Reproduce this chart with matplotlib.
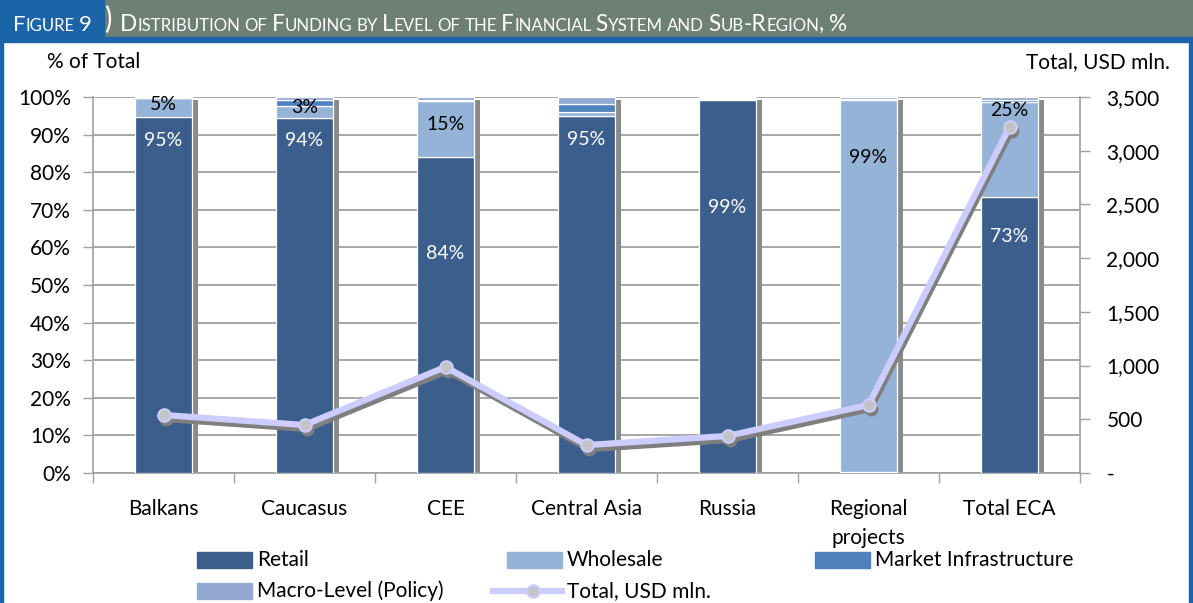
import matplotlib
matplotlib.use("Agg")
import matplotlib.pyplot as plt
import matplotlib.transforms as mtransforms
from matplotlib.patches import Rectangle, Arc
from matplotlib.lines import Line2D
from matplotlib.ticker import FixedLocator, FuncFormatter

plt.rcParams['font.family'] = ['Lato', 'DejaVu Sans']

# data
regions = ['Balkans', 'Caucasus', 'CEE', 'Central Asia', 'Russia', 'Regional\nprojects', 'Total ECA']
retail = [94.7, 94.3, 84.0, 94.9, 99.3, 0.3, 73.4]
wholesale = [5.0, 3.3, 14.9, 1.2, 0.2, 99.0, 25.3]
market_infra = [0.0, 1.7, 0.3, 2.0, 0.2, 0.2, 0.5]
macro = [0.3, 0.7, 0.8, 1.9, 0.3, 0.5, 0.8]
totals_usd = [540, 447, 987, 260, 345, 633, 3222]

# where the data labels sit (in % of axis), None = no label
retail_lab_y = [88.3, 88.3, 58.5, 88.8, 70.7, None, 63.0]
whole_lab_y = [98.1, 97.3, 92.6, None, None, 84.0, 96.5]

c_retail = '#3b5e8c'
c_whole = '#95b3d7'
c_mi = '#4f81bd'
c_macro = '#93a9d1'
c_line = '#ccccff'

FS = 15  # main text size

W, H = 1193, 603
fig = plt.figure(figsize=(W / 100, H / 100), dpi=100)

# ---- header banner
fig.patches.append(Rectangle((0, 1 - 37 / H), 1, 37 / H, transform=fig.transFigure,
                             color='#6e7f73', zorder=0))
fig.patches.append(Rectangle((0, 1 - 37 / H), 104 / W, 37 / H, transform=fig.transFigure,
                             color='#1b64a8', zorder=1))
fig.patches.append(Rectangle((0, 1 - 42 / H), 1, 5 / H, transform=fig.transFigure,
                             color='#1b64a8', zorder=1))
fig.patches.append(Rectangle((0, 0), 3 / W, 1 - 40 / H, transform=fig.transFigure,
                             color='#1b64a8', zorder=1))
fig.patches.append(Rectangle((1 - 4 / W, 0), 4 / W, 1 - 40 / H, transform=fig.transFigure,
                             color='#1b64a8', zorder=1))
# white bracket between box and title
fig.add_artist(Arc((97 / W, 1 - 19 / H), 26 / W, 40 / H, theta1=-70, theta2=70,
                   transform=fig.transFigure, color='white', lw=1.6, zorder=3))

renderer = fig.canvas.get_renderer()


def smallcaps(x, y, s, big, small, color):
    # fake small caps: capitals at big size, lower case as smaller capitals
    runs = []
    for ch in s:
        if ch == ' ':
            runs.append((' ', None))
            continue
        size = small if ch.islower() else big
        if runs and runs[-1][1] == size:
            runs[-1] = (runs[-1][0] + ch.upper(), size)
        else:
            runs.append((ch.upper(), size))
    for txt, size in runs:
        if size is None:
            x += 0.26 * big
            continue
        t = fig.text(x / W, y / H, txt, fontsize=size, color=color,
                     ha='left', va='baseline', zorder=4)
        bb = t.get_window_extent(renderer)
        x += bb.width


smallcaps(13, H - 31, 'Figure 9', 16, 12, 'white')
smallcaps(120, H - 31, 'Distribution of Funding by Level of the Financial System and Sub-Region, %',
          16.3, 12.2, 'white')

# ---- main axes
ax = fig.add_axes([93 / W, 1 - 473 / H, (1080 - 93) / W, (473 - 97) / H])
x = list(range(len(regions)))
bw = 0.40

tot_pct = [a + b + c + d for a, b, c, d in zip(retail, wholesale, market_infra, macro)]
ax.bar([i + 0.045 for i in x], [t - 0.8 for t in tot_pct], width=bw, color='#8a8a8a', zorder=2)

bottom = [0.0] * len(x)
for vals, col in [(retail, c_retail), (wholesale, c_whole), (market_infra, c_mi), (macro, c_macro)]:
    ax.bar(x, vals, width=bw, bottom=bottom, color=col, edgecolor='white', linewidth=0.9, zorder=3)
    bottom = [b + v for b, v in zip(bottom, vals)]

for i in x:
    if retail_lab_y[i] is not None:
        ax.text(i, retail_lab_y[i], f'{round(retail[i]):d}%', ha='center', va='center',
                color='white', fontsize=14, zorder=5)
    if whole_lab_y[i] is not None:
        ax.text(i, whole_lab_y[i], f'{round(wholesale[i]):d}%', ha='center', va='center',
                color='black', fontsize=14, zorder=5)

ax.set_xlim(-0.5, len(x) - 0.5)
ax.set_ylim(0, 100)
ax.yaxis.set_major_locator(FixedLocator(range(0, 101, 10)))
ax.yaxis.set_major_formatter(FuncFormatter(lambda v, p: f'{v:.0f}%'))
ax.set_xticks(x)
ax.set_xticklabels(regions, linespacing=1.55)
ax.set_xticks([i - 0.5 for i in range(len(x) + 1)], minor=True)
ax.tick_params(axis='x', which='major', length=0, pad=19, labelsize=FS)
ax.tick_params(axis='x', which='minor', length=7, color='#a0a0a0', width=1)
ax.tick_params(axis='y', length=7, color='#a0a0a0', width=1, pad=9, labelsize=FS)
ax.grid(axis='y', color='#a6a6a6', linewidth=1.4)
ax.set_axisbelow(True)
for side in ['top', 'right']:
    ax.spines[side].set_visible(False)
for side in ['left', 'bottom']:
    ax.spines[side].set_color('#a0a0a0')
    ax.spines[side].set_linewidth(1.2)

# ---- right axis: totals line
ax2 = ax.twinx()
ax2.set_ylim(0, 3500)
ax2.yaxis.set_major_locator(FixedLocator(range(0, 3501, 500)))
ax2.yaxis.set_major_formatter(FuncFormatter(lambda v, p: '-' if v == 0 else f'{v:,.0f}'))
ax2.tick_params(axis='y', length=7, color='#a0a0a0', width=1, pad=12, labelsize=FS)
for side in ['top', 'left', 'bottom']:
    ax2.spines[side].set_visible(False)
ax2.spines['right'].set_color('#a0a0a0')
ax2.spines['right'].set_linewidth(1.2)

shadow = mtransforms.offset_copy(ax2.transData, fig=fig, x=2, y=-4, units='dots')
ax2.plot(x, totals_usd, color='#7f7f7f', lw=4.5, marker='o', ms=9, mfc='#7f7f7f',
         mec='#7f7f7f', transform=shadow, zorder=3, solid_joinstyle='round')
ax2.plot(x, totals_usd, color=c_line, lw=4.5, marker='o', ms=9, mfc='#c4c4c4',
         mec=c_line, mew=1.5, zorder=4, solid_joinstyle='round')

fig.text(47 / W, 1 - 62 / H, '% of Total', fontsize=FS, va='center', ha='left')
fig.text(1170 / W, 1 - 62 / H, 'Total, USD mln.', fontsize=FS, va='center', ha='right')

# ---- legend, laid out like the original (two rows, clipped at the bottom)
leg_items = [
    ('patch', c_retail, 'Retail', 197, 560),
    ('patch', c_whole, 'Wholesale', 507, 560),
    ('patch', c_mi, 'Market Infrastructure', 815, 560),
    ('patch', c_macro, 'Macro-Level (Policy)', 197, 591),
    ('line', c_line, 'Total, USD mln.', 493, 591),
]
for kind, col, label, lx, ly in leg_items:
    if kind == 'patch':
        fig.patches.append(Rectangle((lx / W, 1 - (ly + 8) / H), 55 / W, 16 / H,
                                     transform=fig.transFigure, color=col))
        tx = lx + 60
    else:
        fig.add_artist(Line2D([lx / W, (lx + 69) / W], [1 - ly / H, 1 - ly / H],
                              transform=fig.transFigure, color=col, lw=4.5))
        fig.add_artist(Line2D([(lx + 40) / W], [1 - ly / H], transform=fig.transFigure,
                              marker='o', ms=9, mfc='#c4c4c4', mec=col, mew=1.5, lw=0))
        tx = lx + 74
    fig.text(tx / W, 1 - ly / H, label, fontsize=FS, va='center', ha='left')

fig.savefig('out.png', dpi=100)
